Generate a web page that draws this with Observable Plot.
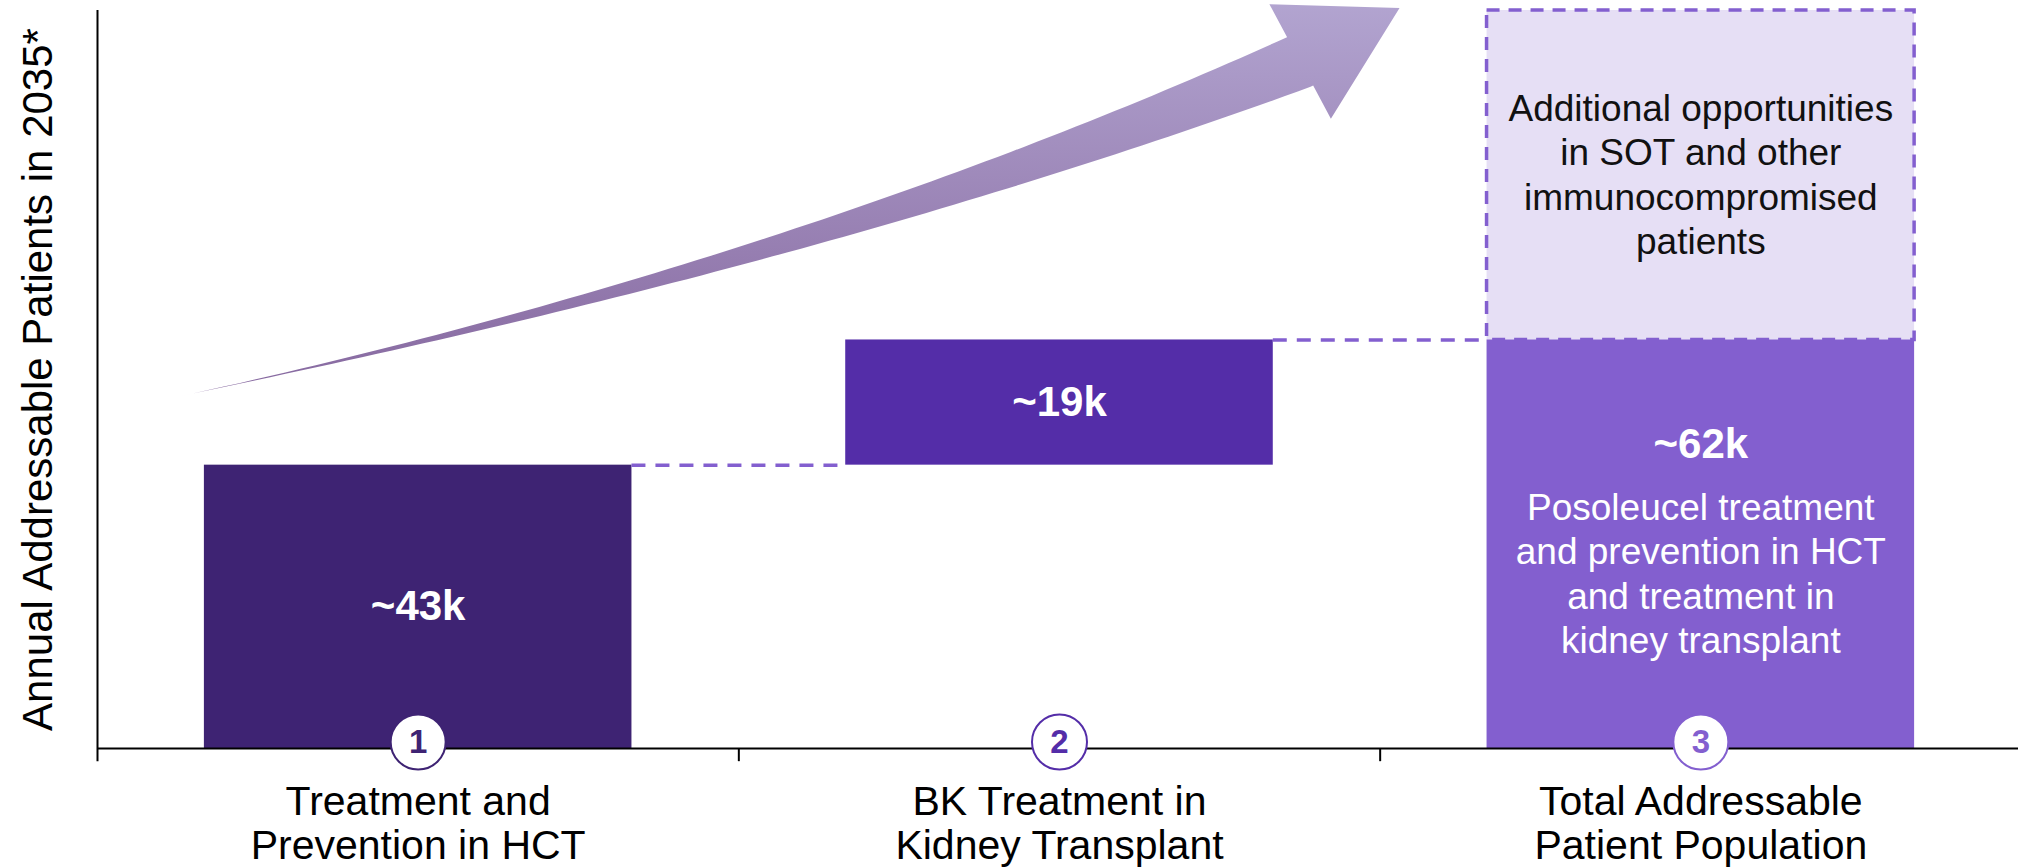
<!DOCTYPE html>
<html>
<head>
<meta charset="utf-8">
<script src="https://cdn.jsdelivr.net/npm/d3@7"></script>
<script src="https://cdn.jsdelivr.net/npm/@observablehq/plot@0.6"></script>
<style>
  html, body { margin: 0; padding: 0; background: #fff; }
  #chart { width: 2018px; height: 868px; overflow: hidden; }
</style>
</head>
<body>
<div id="chart"></div>
<script>
// ---- data ----
const categories = [
  "Treatment and\nPrevention in HCT",
  "BK Treatment in\nKidney Transplant",
  "Total Addressable\nPatient Population"
];
const values = [43, 19, 62];               // thousands of patients
const valueLabels = ["~43k", "~19k", "~62k"];
const stepNumbers = ["1", "2", "3"];
const isTotal = [false, false, true];
const opportunityTop = 112;                // upper extent of the "additional opportunities" box
const opportunityText = "Additional opportunities\nin SOT and other\nimmunocompromised\npatients";
const totalDescription = "Posoleucel treatment\nand prevention in HCT\nand treatment in\nkidney transplant";
const yLabel = "Annual Addressable Patients in 2035*";

// ---- styles ----
const barColors = ["#3e2373", "#542da8", "#835fcf"];
const dashColor = "#835fcf";
const boxFill = "#e6dff5";
const pad = 1 / 6;   // inset of each bar inside its category slot
const font = "'Liberation Sans', Arial, Helvetica, sans-serif";

// ---- derived table (waterfall) ----
let running = 0;
const rows = categories.map((category, i) => {
  const start = isTotal[i] ? 0 : running;
  const end = isTotal[i] ? values[i] : running + values[i];
  if (!isTotal[i]) running = end;
  return {i, category, start, end, mid: (start + end) / 2, label: valueLabels[i],
          num: stepNumbers[i], color: barColors[i], total: isTotal[i]};
});
const connectors = rows.slice(0, -1).map((d, i) => ({level: d.end, x1: i + 1 - pad, x2: i + 1 + pad}));
const totalRow = rows[rows.length - 1];
const opportunity = [{x1: totalRow.i + pad, x2: totalRow.i + 1 - pad, y1: totalRow.end, y2: opportunityTop, text: opportunityText}];

// ---- decorative growth arrow (in chart data units) ----
const arrowSpec = {tail: [0.125, 53.3], bend: [1.098, 73.3], neck: [1.876, 104.2], tip: [2.031, 112.3],
                   neckWidth: 55, headWidth: 130, colorLow: "#86689f", colorHigh: "#b2a4d0"};

function arrowMark(index, scales) {
  const ns = "http://www.w3.org/2000/svg";
  const X = scales.x, Y = scales.y;
  const p = a => [X(a[0]), Y(a[1])];
  const P0 = p(arrowSpec.tail), P1 = p(arrowSpec.bend), P2 = p(arrowSpec.neck), T = p(arrowSpec.tip);
  const up = [], lo = [];
  const N = 80;
  for (let k = 0; k <= N; k++) {
    const t = k / N;
    const a = (1 - t) * (1 - t), b = 2 * t * (1 - t), c = t * t;
    const bx = a * P0[0] + b * P1[0] + c * P2[0];
    const by = a * P0[1] + b * P1[1] + c * P2[1];
    let tx = 2 * (1 - t) * (P1[0] - P0[0]) + 2 * t * (P2[0] - P1[0]);
    let ty = 2 * (1 - t) * (P1[1] - P0[1]) + 2 * t * (P2[1] - P1[1]);
    const L = Math.hypot(tx, ty); tx /= L; ty /= L;
    const nx = -ty, ny = tx;
    const h = arrowSpec.neckWidth / 2 * Math.pow(t, 1.5);
    up.push([bx - h * nx, by - h * ny]);
    lo.push([bx + h * nx, by + h * ny]);
  }
  const ux = T[0] - P2[0], uy = T[1] - P2[1], ul = Math.hypot(ux, uy);
  const hx = -uy / ul, hy = ux / ul;
  const hw = arrowSpec.headWidth / 2, nw = arrowSpec.neckWidth / 2;
  const pts = [...up,
    [P2[0] - nw * hx, P2[1] - nw * hy],
    [P2[0] - hw * hx, P2[1] - hw * hy],
    T,
    [P2[0] + hw * hx, P2[1] + hw * hy],
    [P2[0] + nw * hx, P2[1] + nw * hy],
    ...lo.reverse()];
  const g = document.createElementNS(ns, "g");
  const defs = document.createElementNS(ns, "defs");
  const grad = document.createElementNS(ns, "linearGradient");
  grad.setAttribute("id", "arrowGrad");
  grad.setAttribute("gradientUnits", "userSpaceOnUse");
  grad.setAttribute("x1", 0); grad.setAttribute("x2", 0);
  grad.setAttribute("y1", P0[1]); grad.setAttribute("y2", P2[1] - hw * hy);
  [[0, arrowSpec.colorLow], [1, arrowSpec.colorHigh]].forEach(([o, col]) => {
    const s = document.createElementNS(ns, "stop");
    s.setAttribute("offset", o); s.setAttribute("stop-color", col);
    grad.appendChild(s);
  });
  defs.appendChild(grad);
  g.appendChild(defs);
  const path = document.createElementNS(ns, "path");
  path.setAttribute("d", "M" + pts.map(q => q[0].toFixed(2) + "," + q[1].toFixed(2)).join("L") + "Z");
  path.setAttribute("fill", "url(#arrowGrad)");
  g.appendChild(path);
  return g;
}

const chart = Plot.plot({
  width: 2018,
  height: 868,
  marginLeft: 97,
  marginRight: -3,
  marginTop: 10,
  marginBottom: 120,
  x: {domain: [0, categories.length], axis: null},
  y: {domain: [0, opportunityTop], axis: null},
  color: {type: "identity"},
  style: {fontFamily: font, background: "#fff", overflow: "visible"},
  marks: [
    arrowMark,
    // dashed "additional opportunities" box
    Plot.rect(opportunity, {x1: "x1", x2: "x2", y1: "y1", y2: "y2", fill: boxFill,
      stroke: dashColor, strokeWidth: 3.5, strokeDasharray: "13,9"}),
    Plot.text(opportunity, {x: d => (d.x1 + d.x2) / 2, y: d => (d.y1 + d.y2) / 2, text: "text",
      fontSize: 37, lineHeight: 1.2, fill: "#111", dy: -2}),
    // waterfall bars
    Plot.rect(rows, {x1: d => d.i + pad, x2: d => d.i + 1 - pad, y1: "start", y2: "end", fill: d => d.color}),
    // dashed connectors
    Plot.ruleY(connectors, {y: "level", x1: "x1", x2: "x2", stroke: dashColor, strokeWidth: 3.5, strokeDasharray: "14,10"}),
    // value labels
    Plot.text(rows.filter(d => !d.total), {x: d => d.i + 0.5, y: "mid", text: "label",
      fill: "white", fontWeight: "bold", fontSize: 42}),
    Plot.text(rows.filter(d => d.total), {x: d => d.i + 0.5, y: "mid", text: "label",
      fill: "white", fontWeight: "bold", fontSize: 42, dy: -100}),
    Plot.text(rows.filter(d => d.total), {x: d => d.i + 0.5, y: "mid", text: () => totalDescription,
      fill: "white", fontSize: 37, lineHeight: 1.2, dy: 28}),
    // axes
    Plot.ruleY([0], {stroke: "#000", strokeWidth: 2}),
    Plot.ruleX([0], {y1: -2, y2: opportunityTop, stroke: "#000", strokeWidth: 2}),
    Plot.ruleX(d3.range(1, categories.length + 1), {y1: 0, y2: -2, stroke: "#000", strokeWidth: 2}),
    // numbered circles
    Plot.dot(rows, {x: d => d.i + 0.5, y: 0, r: 27.5, fill: "white", stroke: d => d.color, strokeWidth: 2, dy: -6.5}),
    Plot.text(rows, {x: d => d.i + 0.5, y: 0, text: "num", fill: d => d.color, fontWeight: "bold", fontSize: 33, dy: -6.5}),
    // category labels
    Plot.text(rows, {x: d => d.i + 0.5, y: 0, text: "category", lineAnchor: "top", dy: 35,
      fontSize: 41, lineHeight: 1.07, fill: "#000"}),
    // y-axis title
    Plot.text([yLabel], {frameAnchor: "left", text: d => d, textAnchor: "middle", rotate: -90, dx: -58.5, fontSize: 42, fill: "#000"})
  ]
});
document.getElementById("chart").appendChild(chart);
</script>
</body>
</html>
